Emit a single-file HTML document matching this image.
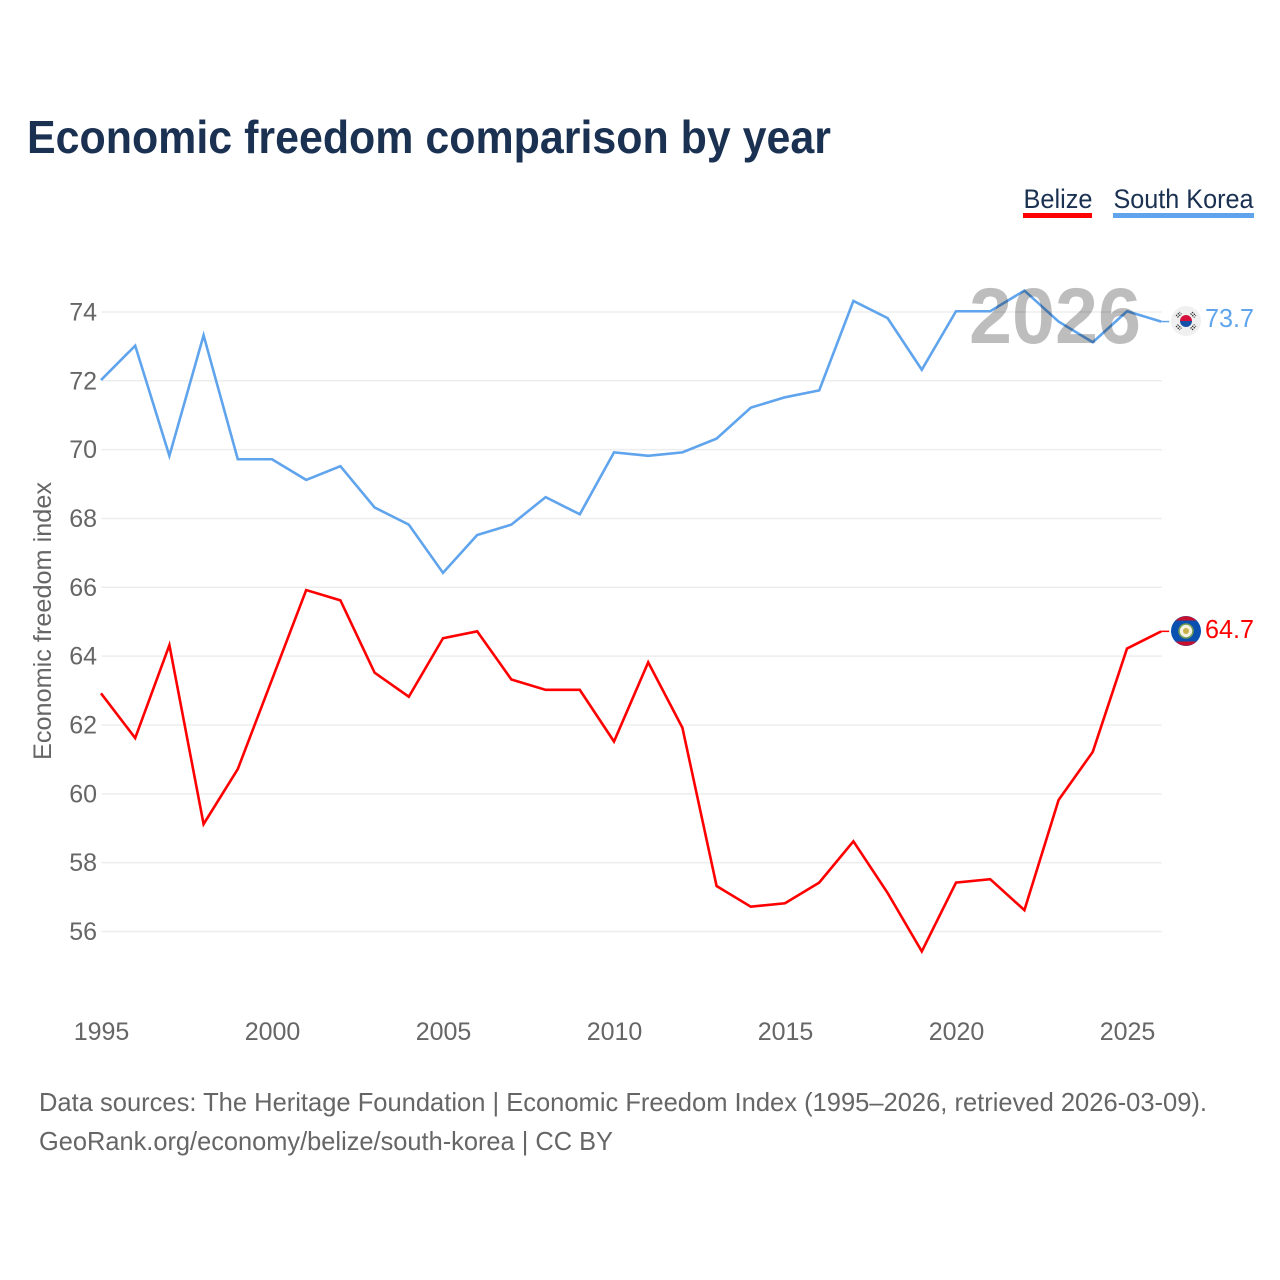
<!DOCTYPE html>
<html>
<head>
<meta charset="utf-8">
<style>
html,body{margin:0;padding:0;background:#fff;width:1280px;height:1280px;overflow:hidden}
svg{display:block}
text{font-family:"Liberation Sans",sans-serif}
</style>
</head>
<body>
<svg id="chart" xmlns="http://www.w3.org/2000/svg" width="1280" height="1280" viewBox="0 0 1280 1280">
  <rect width="1280" height="1280" fill="#fff"/>
  <text x="27" y="153" font-size="46" font-weight="700" fill="#1a3152" textLength="804" lengthAdjust="spacingAndGlyphs">Economic freedom comparison by year</text>

  <g>
    <text x="1023.5" y="208" font-size="27" fill="#1a3152" textLength="69" lengthAdjust="spacingAndGlyphs">Belize</text>
    <rect x="1023" y="213" width="69" height="5" fill="#ff0000"/>
  </g>
  <g>
    <text x="1113.5" y="208" font-size="27" fill="#1a3152" textLength="140" lengthAdjust="spacingAndGlyphs">South Korea</text>
    <rect x="1113" y="213" width="141" height="5" fill="#5fa4ec"/>
  </g>

  <g id="grid"></g>
  <g id="yticks"></g>
  <g id="xticks"></g>

  <text transform="translate(51,621) rotate(-90)" text-anchor="middle" font-size="25" fill="#666" textLength="278" lengthAdjust="spacingAndGlyphs">Economic freedom index</text>

  <g id="series" transform="translate(-0.5,-0.7)"></g>

  <text x="969" y="343" font-size="79" font-weight="700" fill="#000" fill-opacity="0.26" textLength="172" lengthAdjust="spacingAndGlyphs">2026</text>

  <g id="flag-kr">
    <circle cx="1186" cy="321" r="15" fill="#f0f0f0"/>
    <path d="M1180 321a6 6 0 0 1 12 0z" fill="#d5103a"/>
    <path d="M1180 321a6 6 0 0 0 12 0z" fill="#1550a8"/>
    <g stroke="#333" stroke-width="1.2" stroke-dasharray="1.6 0.8" fill="none">
      <path d="M1176 316l4-4M1177.5 317.5l4-4"/>
      <path d="M1192 312l4 4M1190.5 313.5l4 4"/>
      <path d="M1176 326l4 4M1177.5 324.5l4 4"/>
      <path d="M1192 330l4-4M1190.5 328.5l4-4"/>
    </g>
  </g>
  <g id="flag-bz">
    <circle cx="1186" cy="631" r="15" fill="#0a50b0"/>
    <path d="M1175.5 620.5a15 15 0 0 1 21 0z" fill="#c8102e"/>
    <path d="M1175.5 641.5a15 15 0 0 0 21 0z" fill="#c8102e"/>
    <circle cx="1186" cy="631" r="7" fill="#f3f1df" stroke="#6f9a55" stroke-width="1.6"/>
    <circle cx="1186" cy="631" r="3" fill="#c9b24a"/>
  </g>

  <text x="1205" y="327" font-size="26" fill="#5fa4ec" textLength="49" lengthAdjust="spacingAndGlyphs">73.7</text>
  <text x="1205" y="638" font-size="26" fill="#ff0000" textLength="49" lengthAdjust="spacingAndGlyphs">64.7</text>

  <text x="39" y="1111" font-size="26" fill="#666" textLength="1168" lengthAdjust="spacingAndGlyphs">Data sources: The Heritage Foundation | Economic Freedom Index (1995–2026, retrieved 2026-03-09).</text>
  <text x="39" y="1150" font-size="26" fill="#666" textLength="574" lengthAdjust="spacingAndGlyphs">GeoRank.org/economy/belize/south-korea | CC BY</text>
</svg>
<script>
const years = [1995,1996,1997,1998,1999,2000,2001,2002,2003,2004,2005,2006,2007,2008,2009,2010,2011,2012,2013,2014,2015,2016,2017,2018,2019,2020,2021,2022,2023,2024,2025,2026];
const southKorea = [72,73,69.8,73.3,69.7,69.7,69.1,69.5,68.3,67.8,66.4,67.5,67.8,68.6,68.1,69.9,69.8,69.9,70.3,71.2,71.5,71.7,74.3,73.8,72.3,74,74,74.6,73.7,73.1,74,73.7];
const belize = [62.9,61.6,64.3,59.1,60.7,63.3,65.9,65.6,63.5,62.8,64.5,64.7,63.3,63,63,61.5,63.8,61.9,57.3,56.7,56.8,57.4,58.6,57.1,55.4,57.4,57.5,56.6,59.8,61.2,64.2,64.7];
const yTicks = [56,58,60,62,64,66,68,70,72,74];
const xTicks = [1995,2000,2005,2010,2015,2020,2025];

const NS = 'http://www.w3.org/2000/svg';
function xScale(year){ return 101.5 + (year - 1995) * 34.2; }
function yScale(value){ return 931.5 - (value - 56) * 34.42; }
function make(tag, attrs, parent){
  const el = document.createElementNS(NS, tag);
  for (const k in attrs) el.setAttribute(k, attrs[k]);
  parent.appendChild(el);
  return el;
}

const grid = document.getElementById('grid');
const yG = document.getElementById('yticks');
const xG = document.getElementById('xticks');
const seriesG = document.getElementById('series');

yTicks.forEach(function(t){
  const line = make('line', {x1:101.5, x2:1161.7, y1:yScale(t), y2:yScale(t), stroke:'#ededed', 'stroke-width':1.5}, grid);
  
  
  const label = make('text', {x:97, y:yScale(t) + 8.5, 'text-anchor':'end', 'font-size':25, fill:'#666'}, yG);
  
  
  label.textContent = t;
});

xTicks.forEach(function(t){
  const label = make('text', {x:xScale(t), y:1040, 'text-anchor':'middle', 'font-size':25, fill:'#666'}, xG);
  
  
  label.textContent = t;
});

function drawSeries(values, color, name){
  const pts = values.map(function(v, i){ return xScale(years[i]).toFixed(2) + ',' + yScale(v).toFixed(2); });
  const line = make('polyline', {points:pts.join(' '), fill:'none', stroke:color, 'stroke-width':2.6, 'stroke-linejoin':'miter'}, seriesG);
  
  
  const last = values[values.length - 1];
  const lastX = xScale(years[years.length - 1]);
  const connector = make('line', {x1:lastX, x2:lastX + 8, y1:yScale(last), y2:yScale(last), stroke:color, 'stroke-width':1.5}, seriesG);
  
  
}
drawSeries(southKorea, '#5fa4ec', 'south-korea');
drawSeries(belize, '#ff0000', 'belize');
</script>
</body>
</html>
